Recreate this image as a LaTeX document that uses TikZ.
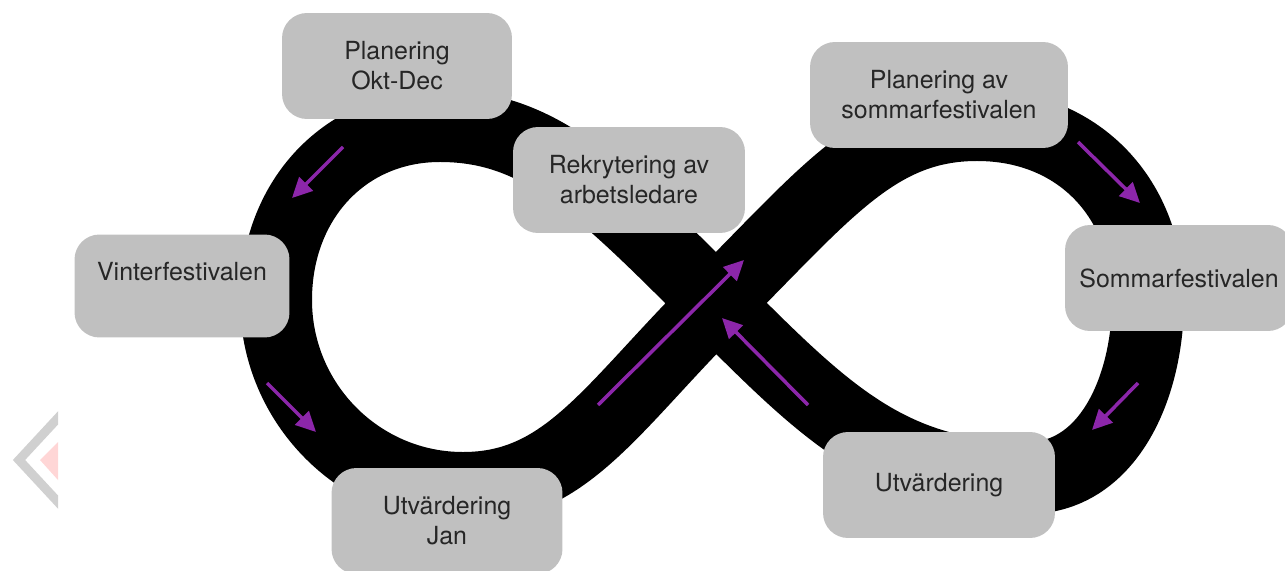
\documentclass[tikz,border=0pt]{standalone}
\usepackage{fontspec}
\setmainfont{TeX Gyre Heros}
\usetikzlibrary{arrows.meta}
\definecolor{boxgray}{RGB}{192,192,192}
\definecolor{flowpurple}{RGB}{140,38,170}
\definecolor{markgray}{RGB}{208,208,208}
\definecolor{markpink}{RGB}{255,214,214}

\begin{document}
\begin{tikzpicture}[x=0.02cm, y=-0.02cm,
  stage/.style={fill=boxgray, rounded corners=0.5cm, align=center, inner sep=0pt,
    minimum height=2.12cm, font=\fontsize{14.2}{17.1}\selectfont, text=black!85},
  flow/.style={draw=flowpurple, line width=2pt,
    -{Triangle[length=0.4cm,width=0.38cm]}}]
  \useasboundingbox (0,0) rectangle (1285,571);
  % faint mark at the left edge
  \begin{scope}
    \clip (0,380) rectangle (58,571);
    \draw[markgray, line width=0.18cm] (70,405) -- (19,460) -- (70,515);
    \fill[markpink] (58,442) -- (40,460) -- (58,480) -- cycle;
  \end{scope}
  % the loop
  \draw[line width=1.44cm] (716,303)
    .. controls (600,187) and (540,126) .. (440,126)
    .. controls (345,126) and (276,200) .. (276,300)
    .. controls (276,404) and (360,488) .. (463,488)
    .. controls (566,488) and (610,409) .. (716,303)
    .. controls (826,193) and (877,125) .. (977,125)
    .. controls (1080,125) and (1148,200) .. (1148,300)
    .. controls (1148,385) and (1110,476) .. (1030,478)
    .. controls (890,478) and (826,413) .. cycle;
  % direction arrows
  \draw[flow] (343,147) -- (292,198);
  \draw[flow] (267,383) -- (316,432);
  \draw[flow] (598,405) -- (744,260);
  \draw[flow] (808,405) -- (722,318);
  \draw[flow] (1078,142) -- (1140,203);
  \draw[flow] (1138,383) -- (1092,430);
  % stages
  \node[stage, minimum width=4.6cm] (planokt) at (397,66) {Planering\\Okt-Dec};
  \node[stage, minimum width=4.3cm, minimum height=2.06cm] (vinter) at (182,286)
    {Vinterfestivalen\\\mbox{}};
  \node[stage, minimum width=4.64cm] (rekryt) at (629,180) {Rekrytering av\\arbetsledare};
  \node[stage, minimum width=5.16cm] (plansommar) at (939,95)
    {Planering av\\sommarfestivalen};
  \node[stage, minimum width=4.56cm] (sommar) at (1179,278) {Sommarfestivalen};
  \node[stage, minimum width=4.62cm] (utvjan) at (447,521) {Utvärdering\\Jan};
  \node[stage, minimum width=4.64cm] (utv) at (939,485) {Utvärdering};
\end{tikzpicture}
\end{document}
